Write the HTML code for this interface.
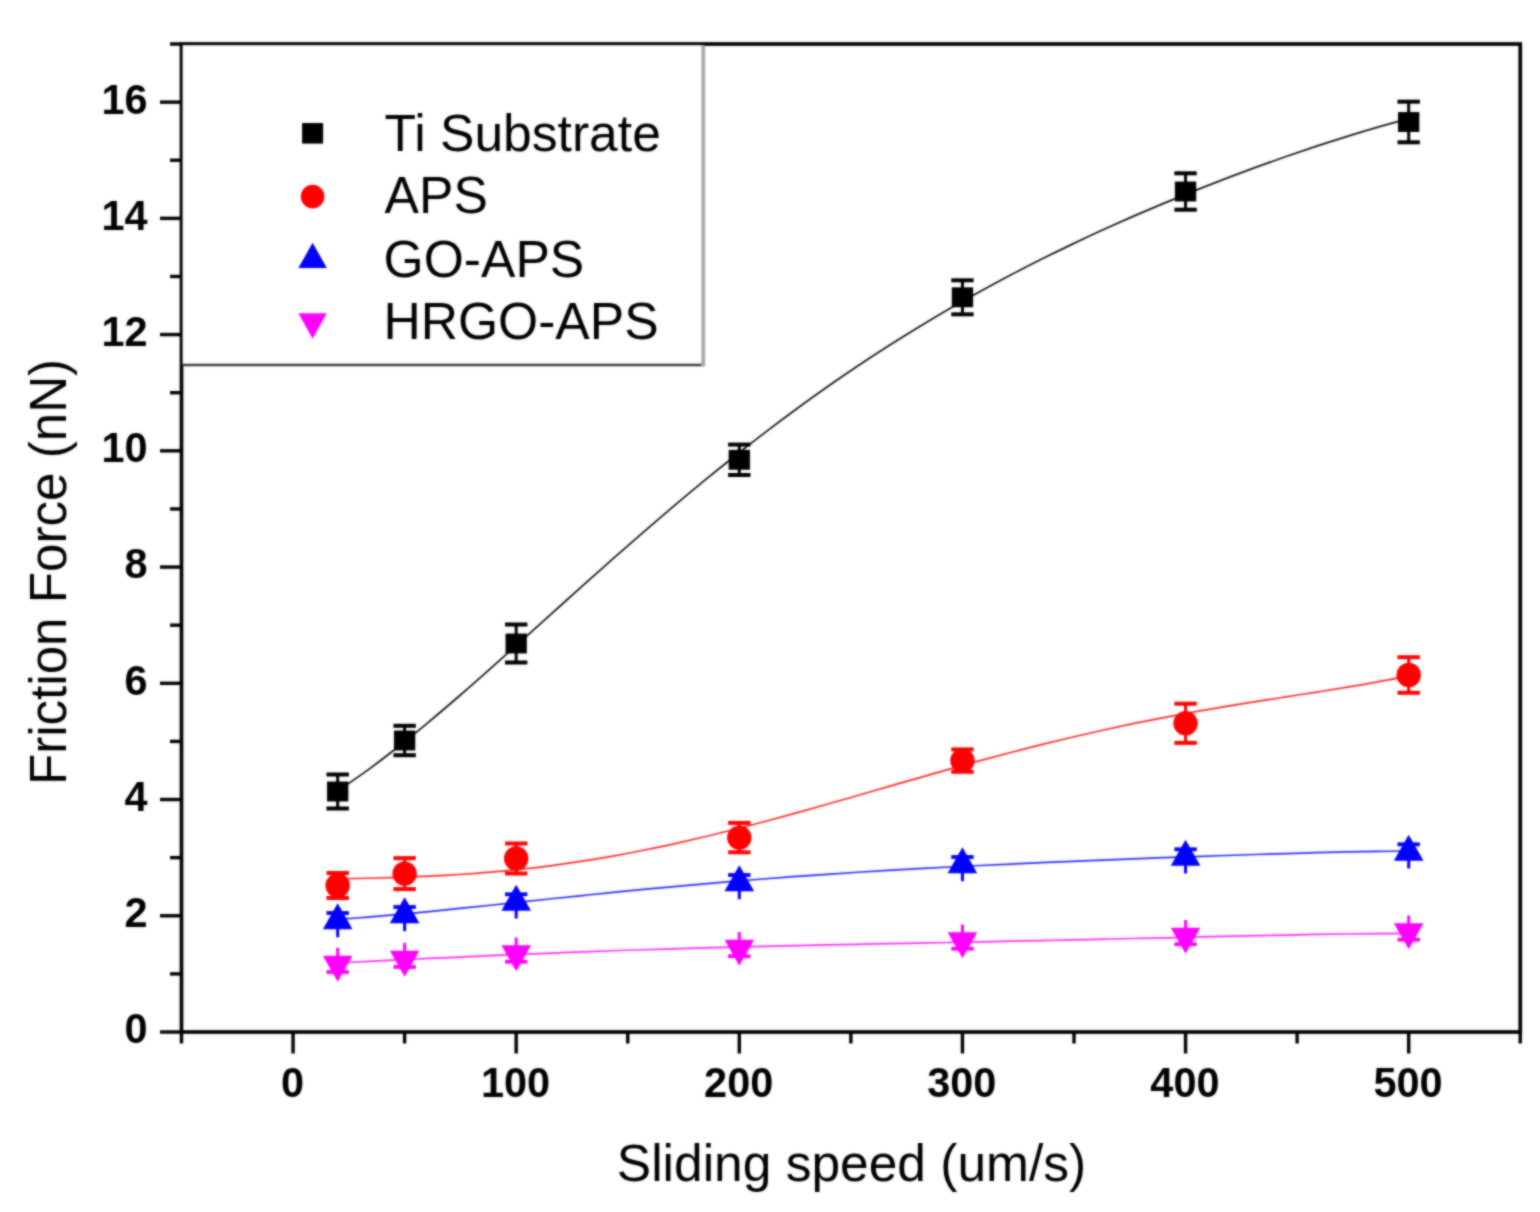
<!DOCTYPE html>
<html lang="en"><head><meta charset="utf-8"><title>Friction Force vs Sliding speed</title>
<style>
html,body{margin:0;padding:0;background:#fff;}
body{width:1540px;height:1212px;overflow:hidden;}
svg{display:block;}
#wrap{width:1540px;height:1212px;}
text{font-family:'Liberation Sans', Arial, Helvetica, sans-serif;fill:#000;}
.tl{font-weight:bold;font-size:43px;}
.lb{font-size:51.5px;}
.lg{font-size:51.6px;}
.yl{font-size:51.15px;}
</style></head><body><div id="wrap">
<svg width="1540" height="1212" viewBox="0 0 1540 1212">
<defs><filter id="soft" x="0" y="0" width="1540" height="1212" filterUnits="userSpaceOnUse" color-interpolation-filters="sRGB"><feGaussianBlur in="SourceGraphic" stdDeviation="0.9" result="b"/><feComposite in="b" in2="SourceGraphic" operator="arithmetic" k1="0" k2="0.70" k3="0.30" k4="0"/></filter></defs>
<g filter="url(#soft)">
<rect x="0" y="0" width="1540" height="1212" fill="#fff"/>
<g stroke="#000" fill="none" stroke-linecap="butt">
<rect x="181.50" y="44.00" width="1338.75" height="988.00" stroke-width="3.70"/>
<line x1="160.00" y1="1032.00" x2="181.50" y2="1032.00" stroke-width="3.40"/>
<line x1="170.00" y1="973.88" x2="181.50" y2="973.88" stroke-width="3.40"/>
<line x1="160.00" y1="915.76" x2="181.50" y2="915.76" stroke-width="3.40"/>
<line x1="170.00" y1="857.65" x2="181.50" y2="857.65" stroke-width="3.40"/>
<line x1="160.00" y1="799.53" x2="181.50" y2="799.53" stroke-width="3.40"/>
<line x1="170.00" y1="741.41" x2="181.50" y2="741.41" stroke-width="3.40"/>
<line x1="160.00" y1="683.29" x2="181.50" y2="683.29" stroke-width="3.40"/>
<line x1="170.00" y1="625.18" x2="181.50" y2="625.18" stroke-width="3.40"/>
<line x1="160.00" y1="567.06" x2="181.50" y2="567.06" stroke-width="3.40"/>
<line x1="170.00" y1="508.94" x2="181.50" y2="508.94" stroke-width="3.40"/>
<line x1="160.00" y1="450.82" x2="181.50" y2="450.82" stroke-width="3.40"/>
<line x1="170.00" y1="392.71" x2="181.50" y2="392.71" stroke-width="3.40"/>
<line x1="160.00" y1="334.59" x2="181.50" y2="334.59" stroke-width="3.40"/>
<line x1="170.00" y1="276.47" x2="181.50" y2="276.47" stroke-width="3.40"/>
<line x1="160.00" y1="218.35" x2="181.50" y2="218.35" stroke-width="3.40"/>
<line x1="170.00" y1="160.24" x2="181.50" y2="160.24" stroke-width="3.40"/>
<line x1="160.00" y1="102.12" x2="181.50" y2="102.12" stroke-width="3.40"/>
<line x1="170.00" y1="44.00" x2="181.50" y2="44.00" stroke-width="3.40"/>
<line x1="181.50" y1="1032.00" x2="181.50" y2="1043.50" stroke-width="3.40"/>
<line x1="293.06" y1="1032.00" x2="293.06" y2="1053.50" stroke-width="3.40"/>
<line x1="404.62" y1="1032.00" x2="404.62" y2="1043.50" stroke-width="3.40"/>
<line x1="516.19" y1="1032.00" x2="516.19" y2="1053.50" stroke-width="3.40"/>
<line x1="627.75" y1="1032.00" x2="627.75" y2="1043.50" stroke-width="3.40"/>
<line x1="739.31" y1="1032.00" x2="739.31" y2="1053.50" stroke-width="3.40"/>
<line x1="850.88" y1="1032.00" x2="850.88" y2="1043.50" stroke-width="3.40"/>
<line x1="962.44" y1="1032.00" x2="962.44" y2="1053.50" stroke-width="3.40"/>
<line x1="1074.00" y1="1032.00" x2="1074.00" y2="1043.50" stroke-width="3.40"/>
<line x1="1185.56" y1="1032.00" x2="1185.56" y2="1053.50" stroke-width="3.40"/>
<line x1="1297.12" y1="1032.00" x2="1297.12" y2="1043.50" stroke-width="3.40"/>
<line x1="1408.69" y1="1032.00" x2="1408.69" y2="1053.50" stroke-width="3.40"/>
<line x1="1520.25" y1="1032.00" x2="1520.25" y2="1043.50" stroke-width="3.40"/>
</g>
<g class="tl" text-anchor="end">
<text x="147.6" y="1043.40" textLength="23.07" lengthAdjust="spacingAndGlyphs">0</text>
<text x="147.6" y="927.16" textLength="23.07" lengthAdjust="spacingAndGlyphs">2</text>
<text x="147.6" y="810.93" textLength="23.07" lengthAdjust="spacingAndGlyphs">4</text>
<text x="147.6" y="694.69" textLength="23.07" lengthAdjust="spacingAndGlyphs">6</text>
<text x="147.6" y="578.46" textLength="23.07" lengthAdjust="spacingAndGlyphs">8</text>
<text x="147.6" y="462.22" textLength="46.14" lengthAdjust="spacingAndGlyphs">10</text>
<text x="147.6" y="345.99" textLength="46.14" lengthAdjust="spacingAndGlyphs">12</text>
<text x="147.6" y="229.75" textLength="46.14" lengthAdjust="spacingAndGlyphs">14</text>
<text x="147.6" y="113.52" textLength="46.14" lengthAdjust="spacingAndGlyphs">16</text>
</g>
<g class="tl" text-anchor="middle">
<text x="292.46" y="1096.9" textLength="23.07" lengthAdjust="spacingAndGlyphs">0</text>
<text x="515.59" y="1096.9" textLength="69.21" lengthAdjust="spacingAndGlyphs">100</text>
<text x="738.71" y="1096.9" textLength="69.21" lengthAdjust="spacingAndGlyphs">200</text>
<text x="961.84" y="1096.9" textLength="69.21" lengthAdjust="spacingAndGlyphs">300</text>
<text x="1184.96" y="1096.9" textLength="69.21" lengthAdjust="spacingAndGlyphs">400</text>
<text x="1408.09" y="1096.9" textLength="69.21" lengthAdjust="spacingAndGlyphs">500</text>
</g>
<text class="lb" x="851.5" y="1180.6" text-anchor="middle">Sliding speed (um/s)</text>
<text class="yl" transform="translate(65.8 572.0) rotate(-90)" text-anchor="middle">Friction Force (nN)</text>
<g fill="none" stroke-width="1.85" stroke-linecap="round">
<path stroke="#ff00ff" stroke-width="1.7" stroke-opacity="0.85" d="M337.40 962.95 C342.50 962.70 357.80 961.95 368.00 961.45 C378.20 960.95 388.40 960.45 398.61 959.95 C408.81 959.46 419.01 958.96 429.21 958.47 C439.41 957.98 449.61 957.50 459.81 957.03 C470.01 956.55 480.21 956.09 490.41 955.63 C500.62 955.18 510.82 954.74 521.02 954.31 C531.22 953.88 541.42 953.46 551.62 953.05 C561.82 952.64 572.02 952.25 582.22 951.87 C592.42 951.49 602.62 951.12 612.83 950.77 C623.03 950.42 633.23 950.08 643.43 949.75 C653.63 949.42 663.83 949.10 674.03 948.80 C684.23 948.49 694.43 948.20 704.63 947.92 C714.84 947.64 725.04 947.37 735.24 947.11 C745.44 946.85 755.64 946.59 765.84 946.35 C776.04 946.10 786.24 945.87 796.44 945.64 C806.64 945.41 816.84 945.19 827.05 944.97 C837.25 944.75 847.45 944.53 857.65 944.32 C867.85 944.11 878.05 943.90 888.25 943.70 C898.45 943.49 908.65 943.29 918.85 943.08 C929.06 942.88 939.26 942.68 949.46 942.47 C959.66 942.26 969.86 942.06 980.06 941.85 C990.26 941.64 1000.46 941.43 1010.66 941.22 C1020.86 941.01 1031.06 940.79 1041.27 940.57 C1051.47 940.35 1061.67 940.13 1071.87 939.91 C1082.07 939.68 1092.27 939.45 1102.47 939.22 C1112.67 938.99 1122.87 938.75 1133.07 938.52 C1143.28 938.28 1153.48 938.04 1163.68 937.80 C1173.88 937.56 1184.08 937.32 1194.28 937.08 C1204.48 936.84 1214.68 936.60 1224.88 936.37 C1235.08 936.14 1245.28 935.91 1255.49 935.68 C1265.69 935.46 1275.89 935.24 1286.09 935.04 C1296.29 934.84 1306.49 934.64 1316.69 934.47 C1326.89 934.30 1337.09 934.13 1347.29 934.00 C1357.50 933.86 1367.70 933.74 1377.90 933.66 C1388.10 933.57 1403.40 933.52 1408.50 933.49"/>
<path stroke="#0000ff" stroke-width="1.7" stroke-opacity="0.85" d="M337.40 919.45 C342.50 919.06 357.80 917.96 368.00 917.13 C378.20 916.30 388.40 915.40 398.61 914.47 C408.81 913.54 419.01 912.56 429.21 911.56 C439.41 910.55 449.61 909.51 459.81 908.46 C470.01 907.41 480.21 906.34 490.41 905.26 C500.62 904.19 510.82 903.10 521.02 902.02 C531.22 900.93 541.42 899.84 551.62 898.77 C561.82 897.69 572.02 896.62 582.22 895.57 C592.42 894.51 602.62 893.47 612.83 892.44 C623.03 891.42 633.23 890.41 643.43 889.43 C653.63 888.44 663.83 887.47 674.03 886.53 C684.23 885.59 694.43 884.67 704.63 883.78 C714.84 882.89 725.04 882.02 735.24 881.18 C745.44 880.33 755.64 879.52 765.84 878.73 C776.04 877.93 786.24 877.17 796.44 876.43 C806.64 875.69 816.84 874.97 827.05 874.28 C837.25 873.59 847.45 872.92 857.65 872.27 C867.85 871.63 878.05 871.01 888.25 870.40 C898.45 869.80 908.65 869.22 918.85 868.65 C929.06 868.09 939.26 867.55 949.46 867.02 C959.66 866.49 969.86 865.98 980.06 865.48 C990.26 864.98 1000.46 864.50 1010.66 864.03 C1020.86 863.55 1031.06 863.10 1041.27 862.65 C1051.47 862.20 1061.67 861.76 1071.87 861.33 C1082.07 860.90 1092.27 860.48 1102.47 860.07 C1112.67 859.66 1122.87 859.26 1133.07 858.86 C1143.28 858.46 1153.48 858.07 1163.68 857.69 C1173.88 857.31 1184.08 856.94 1194.28 856.57 C1204.48 856.20 1214.68 855.84 1224.88 855.50 C1235.08 855.15 1245.28 854.81 1255.49 854.48 C1265.69 854.15 1275.89 853.84 1286.09 853.54 C1296.29 853.24 1306.49 852.95 1316.69 852.69 C1326.89 852.43 1337.09 852.18 1347.29 851.96 C1357.50 851.75 1367.70 851.55 1377.90 851.39 C1388.10 851.24 1403.40 851.08 1408.50 851.02"/>
<path stroke="#ff0000" stroke-width="1.7" stroke-opacity="0.85" d="M337.40 878.90 C342.50 878.79 357.80 878.51 368.00 878.26 C378.20 878.02 388.40 877.76 398.61 877.42 C408.81 877.08 419.01 876.70 429.21 876.22 C439.41 875.73 449.61 875.18 459.81 874.51 C470.01 873.84 480.21 873.09 490.41 872.21 C500.62 871.33 510.82 870.35 521.02 869.25 C531.22 868.14 541.42 866.92 551.62 865.58 C561.82 864.23 572.02 862.77 582.22 861.18 C592.42 859.60 602.62 857.89 612.83 856.07 C623.03 854.26 633.23 852.31 643.43 850.27 C653.63 848.23 663.83 846.07 674.03 843.82 C684.23 841.57 694.43 839.21 704.63 836.78 C714.84 834.34 725.04 831.81 735.24 829.21 C745.44 826.62 755.64 823.94 765.84 821.21 C776.04 818.48 786.24 815.68 796.44 812.85 C806.64 810.02 816.84 807.13 827.05 804.24 C837.25 801.34 847.45 798.40 857.65 795.46 C867.85 792.52 878.05 789.56 888.25 786.62 C898.45 783.68 908.65 780.73 918.85 777.81 C929.06 774.90 939.26 771.99 949.46 769.13 C959.66 766.27 969.86 763.44 980.06 760.66 C990.26 757.88 1000.46 755.15 1010.66 752.48 C1020.86 749.81 1031.06 747.19 1041.27 744.64 C1051.47 742.10 1061.67 739.62 1071.87 737.21 C1082.07 734.81 1092.27 732.48 1102.47 730.22 C1112.67 727.97 1122.87 725.79 1133.07 723.69 C1143.28 721.59 1153.48 719.56 1163.68 717.61 C1173.88 715.65 1184.08 713.77 1194.28 711.95 C1204.48 710.12 1214.68 708.38 1224.88 706.66 C1235.08 704.95 1245.28 703.30 1255.49 701.67 C1265.69 700.03 1275.89 698.45 1286.09 696.86 C1296.29 695.26 1306.49 693.69 1316.69 692.08 C1326.89 690.46 1337.09 688.86 1347.29 687.16 C1357.50 685.46 1367.70 683.74 1377.90 681.87 C1388.10 680.01 1403.40 676.96 1408.50 675.97"/>
<path stroke="#000" stroke-width="1.75" stroke-opacity="0.92" d="M337.40 791.24 C342.50 787.68 357.80 777.35 368.00 769.90 C378.20 762.45 388.40 754.58 398.61 746.53 C408.81 738.48 419.01 730.09 429.21 721.59 C439.41 713.08 449.61 704.31 459.81 695.48 C470.01 686.64 480.21 677.62 490.41 668.57 C500.62 659.52 510.82 650.35 521.02 641.19 C531.22 632.03 541.42 622.80 551.62 613.62 C561.82 604.44 572.02 595.23 582.22 586.11 C592.42 576.98 602.62 567.87 612.83 558.86 C623.03 549.85 633.23 540.90 643.43 532.06 C653.63 523.23 663.83 514.47 674.03 505.86 C684.23 497.24 694.43 488.73 704.63 480.37 C714.84 472.01 725.04 463.77 735.24 455.69 C745.44 447.60 755.64 439.66 765.84 431.88 C776.04 424.10 786.24 416.46 796.44 408.99 C806.64 401.52 816.84 394.21 827.05 387.06 C837.25 379.91 847.45 372.92 857.65 366.08 C867.85 359.25 878.05 352.58 888.25 346.06 C898.45 339.55 908.65 333.19 918.85 326.98 C929.06 320.77 939.26 314.72 949.46 308.81 C959.66 302.89 969.86 297.13 980.06 291.50 C990.26 285.87 1000.46 280.39 1010.66 275.03 C1020.86 269.66 1031.06 264.44 1041.27 259.33 C1051.47 254.22 1061.67 249.24 1071.87 244.36 C1082.07 239.48 1092.27 234.73 1102.47 230.07 C1112.67 225.42 1122.87 220.87 1133.07 216.42 C1143.28 211.97 1153.48 207.62 1163.68 203.36 C1173.88 199.10 1184.08 194.94 1194.28 190.86 C1204.48 186.78 1214.68 182.79 1224.88 178.89 C1235.08 174.98 1245.28 171.17 1255.49 167.44 C1265.69 163.71 1275.89 160.06 1286.09 156.51 C1296.29 152.95 1306.49 149.48 1316.69 146.11 C1326.89 142.74 1337.09 139.46 1347.29 136.29 C1357.50 133.11 1367.70 130.03 1377.90 127.08 C1388.10 124.13 1403.40 120.00 1408.50 118.58"/>
</g>
<g fill="#ff00ff" stroke="#ff00ff">
<line x1="337.69" y1="947.80" x2="337.69" y2="964.30" stroke-width="3.0"/>
<line x1="326.49" y1="972.00" x2="348.89" y2="972.00" stroke-width="3.8"/>
<polygon stroke="none" points="322.89,955.63 352.49,955.63 337.69,981.63"/>
</g>
<g fill="#ff00ff" stroke="#ff00ff">
<line x1="404.62" y1="942.80" x2="404.62" y2="959.30" stroke-width="3.0"/>
<line x1="393.43" y1="967.00" x2="415.82" y2="967.00" stroke-width="3.8"/>
<polygon stroke="none" points="389.82,950.63 419.43,950.63 404.62,976.63"/>
</g>
<g fill="#ff00ff" stroke="#ff00ff">
<line x1="516.19" y1="937.50" x2="516.19" y2="954.00" stroke-width="3.0"/>
<line x1="504.99" y1="961.70" x2="527.39" y2="961.70" stroke-width="3.8"/>
<polygon stroke="none" points="501.39,945.33 530.99,945.33 516.19,971.33"/>
</g>
<g fill="#ff00ff" stroke="#ff00ff">
<line x1="739.31" y1="932.00" x2="739.31" y2="948.50" stroke-width="3.0"/>
<line x1="728.11" y1="956.20" x2="750.51" y2="956.20" stroke-width="3.8"/>
<polygon stroke="none" points="724.51,939.83 754.11,939.83 739.31,965.83"/>
</g>
<g fill="#ff00ff" stroke="#ff00ff">
<line x1="962.44" y1="924.50" x2="962.44" y2="941.00" stroke-width="3.0"/>
<line x1="951.24" y1="948.70" x2="973.64" y2="948.70" stroke-width="3.8"/>
<polygon stroke="none" points="947.64,932.33 977.24,932.33 962.44,958.33"/>
</g>
<g fill="#ff00ff" stroke="#ff00ff">
<line x1="1185.56" y1="920.00" x2="1185.56" y2="936.50" stroke-width="3.0"/>
<line x1="1174.36" y1="944.20" x2="1196.76" y2="944.20" stroke-width="3.8"/>
<polygon stroke="none" points="1170.76,927.83 1200.36,927.83 1185.56,953.83"/>
</g>
<g fill="#ff00ff" stroke="#ff00ff">
<line x1="1408.69" y1="915.50" x2="1408.69" y2="932.00" stroke-width="3.0"/>
<line x1="1397.49" y1="939.70" x2="1419.89" y2="939.70" stroke-width="3.8"/>
<polygon stroke="none" points="1393.89,923.33 1423.49,923.33 1408.69,949.33"/>
</g>
<g fill="#0000ff" stroke="#0000ff">
<line x1="337.69" y1="920.70" x2="337.69" y2="937.20" stroke-width="3.0"/>
<line x1="326.49" y1="913.00" x2="348.89" y2="913.00" stroke-width="3.8"/>
<polygon stroke="none" points="322.89,929.37 352.49,929.37 337.69,903.37"/>
</g>
<g fill="#0000ff" stroke="#0000ff">
<line x1="404.62" y1="914.70" x2="404.62" y2="931.20" stroke-width="3.0"/>
<line x1="393.43" y1="907.00" x2="415.82" y2="907.00" stroke-width="3.8"/>
<polygon stroke="none" points="389.82,923.37 419.43,923.37 404.62,897.37"/>
</g>
<g fill="#0000ff" stroke="#0000ff">
<line x1="516.19" y1="902.00" x2="516.19" y2="918.50" stroke-width="3.0"/>
<line x1="504.99" y1="894.30" x2="527.39" y2="894.30" stroke-width="3.8"/>
<polygon stroke="none" points="501.39,910.67 530.99,910.67 516.19,884.67"/>
</g>
<g fill="#0000ff" stroke="#0000ff">
<line x1="739.31" y1="882.70" x2="739.31" y2="899.20" stroke-width="3.0"/>
<line x1="728.11" y1="875.00" x2="750.51" y2="875.00" stroke-width="3.8"/>
<polygon stroke="none" points="724.51,891.37 754.11,891.37 739.31,865.37"/>
</g>
<g fill="#0000ff" stroke="#0000ff">
<line x1="962.44" y1="864.70" x2="962.44" y2="881.20" stroke-width="3.0"/>
<line x1="951.24" y1="857.00" x2="973.64" y2="857.00" stroke-width="3.8"/>
<polygon stroke="none" points="947.64,873.37 977.24,873.37 962.44,847.37"/>
</g>
<g fill="#0000ff" stroke="#0000ff">
<line x1="1185.56" y1="857.00" x2="1185.56" y2="873.50" stroke-width="3.0"/>
<line x1="1174.36" y1="849.30" x2="1196.76" y2="849.30" stroke-width="3.8"/>
<polygon stroke="none" points="1170.76,865.67 1200.36,865.67 1185.56,839.67"/>
</g>
<g fill="#0000ff" stroke="#0000ff">
<line x1="1408.69" y1="852.00" x2="1408.69" y2="868.50" stroke-width="3.0"/>
<line x1="1397.49" y1="844.30" x2="1419.89" y2="844.30" stroke-width="3.8"/>
<polygon stroke="none" points="1393.89,860.67 1423.49,860.67 1408.69,834.67"/>
</g>
<g stroke="#ff0000" fill="none"><line x1="337.69" y1="873.00" x2="337.69" y2="898.00" stroke-width="3.0"/><line x1="326.49" y1="873.00" x2="348.89" y2="873.00" stroke-width="4.0"/><line x1="326.49" y1="898.00" x2="348.89" y2="898.00" stroke-width="4.0"/></g>
<circle cx="337.69" cy="885.50" r="12.2" fill="#ff0000"/>
<g stroke="#ff0000" fill="none"><line x1="404.62" y1="858.10" x2="404.62" y2="889.10" stroke-width="3.0"/><line x1="393.43" y1="858.10" x2="415.82" y2="858.10" stroke-width="4.0"/><line x1="393.43" y1="889.10" x2="415.82" y2="889.10" stroke-width="4.0"/></g>
<circle cx="404.62" cy="873.60" r="12.2" fill="#ff0000"/>
<g stroke="#ff0000" fill="none"><line x1="516.19" y1="843.50" x2="516.19" y2="873.50" stroke-width="3.0"/><line x1="504.99" y1="843.50" x2="527.39" y2="843.50" stroke-width="4.0"/><line x1="504.99" y1="873.50" x2="527.39" y2="873.50" stroke-width="4.0"/></g>
<circle cx="516.19" cy="858.50" r="12.2" fill="#ff0000"/>
<g stroke="#ff0000" fill="none"><line x1="739.31" y1="822.90" x2="739.31" y2="852.30" stroke-width="3.0"/><line x1="728.11" y1="822.90" x2="750.51" y2="822.90" stroke-width="4.0"/><line x1="728.11" y1="852.30" x2="750.51" y2="852.30" stroke-width="4.0"/></g>
<circle cx="739.31" cy="837.60" r="12.2" fill="#ff0000"/>
<g stroke="#ff0000" fill="none"><line x1="962.44" y1="749.40" x2="962.44" y2="771.80" stroke-width="3.0"/><line x1="951.24" y1="749.40" x2="973.64" y2="749.40" stroke-width="4.0"/><line x1="951.24" y1="771.80" x2="973.64" y2="771.80" stroke-width="4.0"/></g>
<circle cx="962.44" cy="760.60" r="12.2" fill="#ff0000"/>
<g stroke="#ff0000" fill="none"><line x1="1185.56" y1="703.70" x2="1185.56" y2="742.90" stroke-width="3.0"/><line x1="1174.36" y1="703.70" x2="1196.76" y2="703.70" stroke-width="4.0"/><line x1="1174.36" y1="742.90" x2="1196.76" y2="742.90" stroke-width="4.0"/></g>
<circle cx="1185.56" cy="723.30" r="12.2" fill="#ff0000"/>
<g stroke="#ff0000" fill="none"><line x1="1408.69" y1="657.20" x2="1408.69" y2="692.80" stroke-width="3.0"/><line x1="1397.49" y1="657.20" x2="1419.89" y2="657.20" stroke-width="4.0"/><line x1="1397.49" y1="692.80" x2="1419.89" y2="692.80" stroke-width="4.0"/></g>
<circle cx="1408.69" cy="675.00" r="12.2" fill="#ff0000"/>
<g stroke="#000" fill="none"><line x1="337.69" y1="774.50" x2="337.69" y2="808.50" stroke-width="3.0"/><line x1="326.49" y1="774.50" x2="348.89" y2="774.50" stroke-width="4.0"/><line x1="326.49" y1="808.50" x2="348.89" y2="808.50" stroke-width="4.0"/></g>
<rect x="327.04" y="781.55" width="21.30" height="19.90" fill="#000"/>
<g stroke="#000" fill="none"><line x1="404.62" y1="725.80" x2="404.62" y2="755.20" stroke-width="3.0"/><line x1="393.43" y1="725.80" x2="415.82" y2="725.80" stroke-width="4.0"/><line x1="393.43" y1="755.20" x2="415.82" y2="755.20" stroke-width="4.0"/></g>
<rect x="393.98" y="730.55" width="21.30" height="19.90" fill="#000"/>
<g stroke="#000" fill="none"><line x1="516.19" y1="624.50" x2="516.19" y2="662.50" stroke-width="3.0"/><line x1="504.99" y1="624.50" x2="527.39" y2="624.50" stroke-width="4.0"/><line x1="504.99" y1="662.50" x2="527.39" y2="662.50" stroke-width="4.0"/></g>
<rect x="505.54" y="633.55" width="21.30" height="19.90" fill="#000"/>
<g stroke="#000" fill="none"><line x1="739.31" y1="444.60" x2="739.31" y2="475.00" stroke-width="3.0"/><line x1="728.11" y1="444.60" x2="750.51" y2="444.60" stroke-width="4.0"/><line x1="728.11" y1="475.00" x2="750.51" y2="475.00" stroke-width="4.0"/></g>
<rect x="728.66" y="449.85" width="21.30" height="19.90" fill="#000"/>
<g stroke="#000" fill="none"><line x1="962.44" y1="280.30" x2="962.44" y2="314.30" stroke-width="3.0"/><line x1="951.24" y1="280.30" x2="973.64" y2="280.30" stroke-width="4.0"/><line x1="951.24" y1="314.30" x2="973.64" y2="314.30" stroke-width="4.0"/></g>
<rect x="951.79" y="287.35" width="21.30" height="19.90" fill="#000"/>
<g stroke="#000" fill="none"><line x1="1185.56" y1="173.30" x2="1185.56" y2="209.70" stroke-width="3.0"/><line x1="1174.36" y1="173.30" x2="1196.76" y2="173.30" stroke-width="4.0"/><line x1="1174.36" y1="209.70" x2="1196.76" y2="209.70" stroke-width="4.0"/></g>
<rect x="1174.91" y="181.55" width="21.30" height="19.90" fill="#000"/>
<g stroke="#000" fill="none"><line x1="1408.69" y1="101.70" x2="1408.69" y2="142.30" stroke-width="3.0"/><line x1="1397.49" y1="101.70" x2="1419.89" y2="101.70" stroke-width="4.0"/><line x1="1397.49" y1="142.30" x2="1419.89" y2="142.30" stroke-width="4.0"/></g>
<rect x="1398.04" y="112.05" width="21.30" height="19.90" fill="#000"/>
<rect x="182.60" y="45.20" width="520.65" height="319.80" fill="#fff" stroke="none"/>
<line x1="182.60" y1="365.00" x2="705.05" y2="365.00" stroke="#3c3c3c" stroke-width="2.5"/>
<line x1="703.25" y1="45.20" x2="703.25" y2="366.10" stroke="#a8a8a8" stroke-width="3.8"/>
<rect x="302.10" y="123.00" width="21" height="20.6" fill="#000"/>
<circle cx="312.60" cy="196.6" r="11.8" fill="#ff0000"/>
<polygon fill="#0000ff" points="298.40,268 326.80,268 312.60,242.8"/>
<polygon fill="#ff00ff" points="298.40,313.2 326.80,313.2 312.60,338.8"/>
<g class="lg">
<text x="384.6" y="151.4">Ti Substrate</text>
<text x="384.6" y="213.3">APS</text>
<text x="383.6" y="276.8">GO-APS</text>
<text x="383.4" y="339.1">HRGO-APS</text>
</g>
</g>
</svg>
</div></body></html>
